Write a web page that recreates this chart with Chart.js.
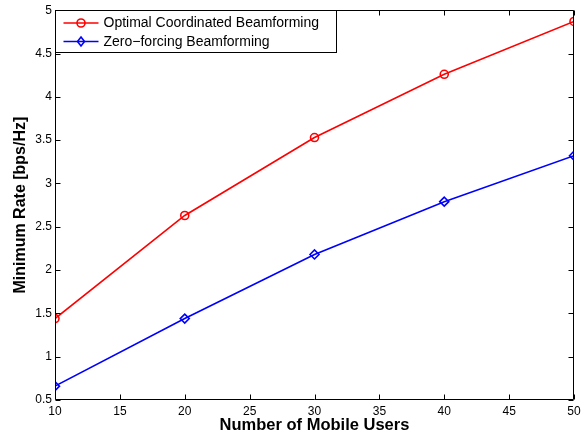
<!DOCTYPE html>
<html>
<head>
<meta charset="utf-8">
<script src="https://cdn.jsdelivr.net/npm/chart.js@4.4.0/dist/chart.umd.min.js"></script>
<style>
html,body{margin:0;padding:0;background:#fff;}
#wrap{width:586px;height:434px;position:relative;}
</style>
</head>
<body>
<div id="wrap"><canvas id="c" width="586" height="434"></canvas></div>
<script>
const users = [10, 20, 30, 40, 50];
const optimalRate = [1.44, 2.63, 3.53, 4.26, 4.87];
const zfRate = [0.66, 1.44, 2.18, 2.79, 3.32];
const xTicks = [10, 15, 20, 25, 30, 35, 40, 45, 50];
const yTicks = [0.5, 1, 1.5, 2, 2.5, 3, 3.5, 4, 4.5, 5];
const seriesLabels = ['Optimal Coordinated Beamforming', 'Zero\u2212forcing Beamforming'];
const xTitle = 'Number of Mobile Users';
const yTitle = 'Minimum Rate [bps/Hz]';

const FONT = "'Liberation Sans', Arial, Helvetica, sans-serif";

const boxPlugin = {
  id: 'matlabBox',
  afterDatasetsDraw(chart) {
    const {ctx, chartArea: a, scales: {x, y}} = chart;
    ctx.save();
    ctx.strokeStyle = '#000';
    ctx.lineWidth = 1;
    const L = Math.round(a.left) + 0.5, R = Math.round(a.right) - 0.5;
    const T = Math.round(a.top) + 0.5, B = Math.round(a.bottom) - 0.5;
    ctx.beginPath();
    ctx.rect(L, T, R - L, B - T);
    ctx.stroke();
    const tl = 5;
    ctx.beginPath();
    x.ticks.forEach(t => {
      const px = Math.round(x.getPixelForValue(t.value)) + 0.5;
      ctx.moveTo(px, B); ctx.lineTo(px, B - tl);
      ctx.moveTo(px, T); ctx.lineTo(px, T + tl);
    });
    y.ticks.forEach(t => {
      const py = Math.round(y.getPixelForValue(t.value)) + 0.5;
      ctx.moveTo(L, py); ctx.lineTo(L + tl, py);
      ctx.moveTo(R, py); ctx.lineTo(R - tl, py);
    });
    ctx.stroke();
    ctx.restore();
  },
  afterDraw(chart) {
    const {ctx, chartArea: a} = chart;
    ctx.save();
    const L = Math.round(a.left) + 0.5, T = Math.round(a.top) + 0.5;
    const W = 281, H = 42;
    ctx.fillStyle = '#fff';
    ctx.fillRect(L, T, W, H);
    ctx.strokeStyle = '#000';
    ctx.lineWidth = 1;
    ctx.strokeRect(L, T, W, H);
    ctx.font = '14px ' + FONT;
    ctx.textBaseline = 'middle';
    ctx.textAlign = 'left';
    chart.data.datasets.forEach((ds, i) => {
      const yy = T + 12.5 + i * 18.5;
      ctx.strokeStyle = ds.borderColor;
      ctx.lineWidth = 1.6;
      ctx.beginPath();
      ctx.moveTo(L + 8, yy); ctx.lineTo(L + 43, yy);
      ctx.stroke();
      ctx.beginPath();
      const cx = L + 25.5;
      if (ds.pointStyle === 'circle') {
        ctx.arc(cx, yy, 4, 0, Math.PI * 2);
      } else {
        ctx.moveTo(cx, yy - 4.5); ctx.lineTo(cx + 3.5, yy); ctx.lineTo(cx, yy + 4.5); ctx.lineTo(cx - 3.5, yy); ctx.closePath();
      }
      ctx.stroke();
      ctx.fillStyle = '#000';
      ctx.fillText(ds.label, L + 48, yy + 0.5);
    });
    ctx.restore();
  }
};

new Chart(document.getElementById('c'), {
  type: 'line',
  data: {
    datasets: [
      {
        label: seriesLabels[0],
        data: users.map((u, i) => ({x: u, y: optimalRate[i]})),
        borderColor: '#ff0000',
        backgroundColor: 'rgba(0,0,0,0)',
        borderWidth: 1.6,
        pointStyle: 'circle',
        pointRadius: 4,
        pointBorderWidth: 1.6,
        pointBackgroundColor: 'rgba(0,0,0,0)',
        pointBorderColor: '#ff0000',
        tension: 0
      },
      {
        label: seriesLabels[1],
        data: users.map((u, i) => ({x: u, y: zfRate[i]})),
        borderColor: '#0000ff',
        backgroundColor: 'rgba(0,0,0,0)',
        borderWidth: 1.6,
        pointStyle: 'rectRot',
        pointRadius: 4.5,
        pointBorderWidth: 1.6,
        pointBackgroundColor: 'rgba(0,0,0,0)',
        pointBorderColor: '#0000ff',
        tension: 0
      }
    ]
  },
  options: {
    responsive: false,
    animation: false,
    devicePixelRatio: 1,
    layout: {padding: {top: 9, right: 12, left: 0, bottom: 0}},
    plugins: {legend: {display: false}, tooltip: {enabled: false}},
    scales: {
      x: {
        type: 'linear', min: 10, max: 50,
        afterBuildTicks: s => { s.ticks = xTicks.map(v => ({value: v})); },
        afterFit: s => { s.height = 34; },
        grid: {display: false, drawTicks: false},
        border: {display: false},
        ticks: {color: '#000', font: {family: FONT, size: 12}, padding: 4, maxRotation: 0, autoSkip: false, callback: v => String(v)},
        title: {display: true, text: xTitle, color: '#000', font: {family: FONT, size: 16.5, weight: 'bold'}, padding: {top: 0, bottom: -1}}
      },
      y: {
        type: 'linear', min: 0.5, max: 5,
        afterBuildTicks: s => { s.ticks = yTicks.map(v => ({value: v})); },
        afterFit: s => { s.width = 55; },
        grid: {display: false, drawTicks: false},
        border: {display: false},
        ticks: {color: '#000', font: {family: FONT, size: 12}, padding: 3, autoSkip: false, callback: v => String(v)},
        title: {display: true, text: yTitle, color: '#000', font: {family: FONT, size: 16, weight: 'bold'}, padding: {top: 11, bottom: 0}}
      }
    }
  },
  plugins: [boxPlugin]
});
</script>
</body>
</html>
